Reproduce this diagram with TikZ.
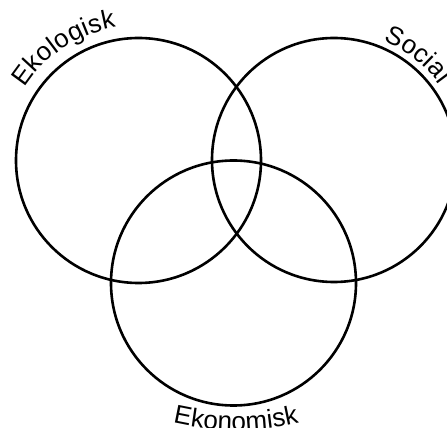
\documentclass[tikz,border=0pt]{standalone}
\usepackage{fontspec}
\newfontfamily\arialish{Liberation Sans}
\usetikzlibrary{decorations.text}
\newcommand\lblfont{\arialish\fontsize{26}{31}\selectfont}
\tikzset{
  ring/.style={draw=black, line width=2.6pt},
  arclabel/.style={decorate, decoration={text along path, text={#1}, text align={fit to path}}}
}
\begin{document}
\begin{tikzpicture}
\useasboundingbox (0pt,0pt) rectangle (447pt,428pt);
\clip (0pt,0pt) rectangle (447pt,428pt);
\coordinate (cL) at (138.5pt,267.5pt);
\coordinate (cR) at (334pt,268pt);
\coordinate (cB) at (233.5pt,145pt);
\coordinate (cT) at (236pt,278pt);
\draw[ring] (cL) circle[radius=122.5pt];
\draw[ring] (cR) circle[radius=122pt];
\draw[ring] (cB) circle[radius=122.5pt];
\path[arclabel={|\lblfont|Ekologisk}] ([shift={(cL)}]147.5:135pt) arc[start angle=147.5, end angle=99.5, radius=135pt];
\path[arclabel={|\lblfont|Social}] ([shift={(cR)}]67.5:129.5pt) arc[start angle=67.5, end angle=35.5, radius=129.5pt];
\path[arclabel={|\lblfont|Ekonomisk}] ([shift={(cT)}]257:280pt) arc[start angle=257, end angle=283, radius=280pt];
\end{tikzpicture}
\end{document}
